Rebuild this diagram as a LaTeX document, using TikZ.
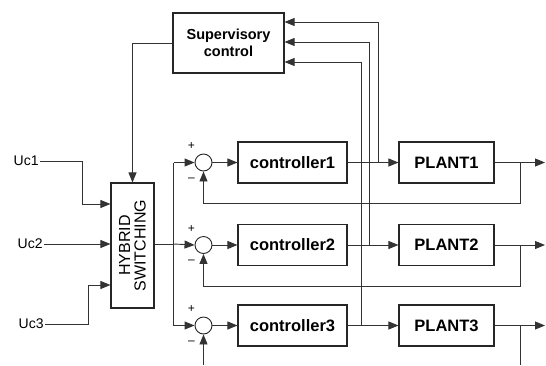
\documentclass[tikz,border=0pt]{standalone}
\usepackage{fontspec}
\setmainfont{Liberation Sans}
\usetikzlibrary{arrows.meta,calc}
\begin{document}
\begin{tikzpicture}[x=1pt,y=-1pt,
  line width=0.9pt,
  wire/.style={draw=black!80},
  arr/.style={wire,-{Triangle[length=10pt,width=8pt]}},
  blk/.style={draw=black!85,line width=1.1pt,rectangle,inner sep=0pt},
  sumnode/.style={draw=black!85,circle,minimum size=17pt,inner sep=0pt},
  boldlbl/.style={font=\fontsize{16.5}{18}\selectfont\bfseries},
  inlbl/.style={font=\fontsize{14}{16}\selectfont,anchor=east,inner sep=1pt},
  sgn/.style={font=\fontsize{12}{12}\selectfont,inner sep=0pt}]
\useasboundingbox (0,0) rectangle (546,365);

% blocks
\node[blk,minimum width=111pt,minimum height=60pt,
  font=\fontsize{14.5}{17}\selectfont\bfseries,align=center] (sup) at (228.5,43) {Supervisory\\control};
\node[blk,minimum width=43pt,minimum height=125pt] (hyb) at (132.5,245.5) {};
\node[rotate=90,font=\fontsize{16}{15.5}\selectfont,align=center] (hybtxt) at (hyb.center) {HYBRID\\SWITCHING};

\foreach \i/\y in {1/162.5,2/245,3/325.5}{
  \node[sumnode] (s\i) at (203.5,\y) {};
  \node[blk,boldlbl,minimum width=109pt,minimum height=41pt] (c\i) at (292.5,\y) {controller\i};
  \node[blk,boldlbl,minimum width=95pt,minimum height=41pt] (p\i) at (446.5,\y) {PLANT\i};
  \node[sgn] (plus\i) at ($(s\i)+(-12,-16)$) {+};
  \node[sgn] (minus\i) at ($(s\i)+(-12,17)$) {--};
}

% external inputs
\node[inlbl] (u1) at (40,161) {Uc1};
\node[inlbl] (u2) at (44,244) {Uc2};
\node[inlbl] (u3) at (45,324) {Uc3};

% coordinates for bends and free ends
\coordinate (bus) at (173.5,244);
\foreach \i/\y in {1/162.5,2/245,3/325.5}{
  \coordinate (o\i) at (545,\y);
  \coordinate (f\i) at (520,\y);
}
\coordinate (fb1) at (520,203.5);
\coordinate (fb2) at (520,286);
\coordinate (fb3) at (520,365);
\coordinate (fs3) at (203.5,365);
\coordinate (t1) at (378,162.5);
\coordinate (t2) at (369.5,245);
\coordinate (t3) at (361,325.5);

% supervisory to switching
\draw[arr] (sup.west) -| (hyb.north);

% inputs to switching
\draw[arr] (u1.east) -- (82,161) |- (hyb.west |- 0,204);
\draw[arr] (u2.east) -- (hyb.west |- u2);
\draw[arr] (u3.east) -- (88,324) |- (hyb.west |- 0,285);

% switching output bus
\draw[wire] (hyb.east |- bus) -- (bus);
\draw[arr] (s1.west -| bus) -- (s1.west);
\draw[arr] (s1.west -| bus) -- (s3.west -| bus) -- (s3.west);
\draw[arr] (bus) -- (s2.west);

% forward paths
\foreach \i in {1,2,3}{
  \draw[arr] (s\i.east) -- (c\i.west);
  \draw[arr] (c\i.east) -- (p\i.west);
  \draw[arr] (p\i.east) -- (o\i);
}

% feedback loops
\draw[arr] (f1) -- (fb1) -| (s1.south);
\draw[arr] (f2) -- (fb2) -| (s2.south);
\draw[wire] (f3) -- (fb3);
\draw[arr] (fs3) -- (s3.south);

% signals fed back to the supervisor
\draw[arr] (t1) -- (t1 |- 0,22) -- (sup.east |- 0,22);
\draw[arr] (t2) -- (t2 |- 0,42) -- (sup.east |- 0,42);
\draw[arr] (t3) -- (t3 |- 0,62) -- (sup.east |- 0,62);
\end{tikzpicture}
\end{document}
